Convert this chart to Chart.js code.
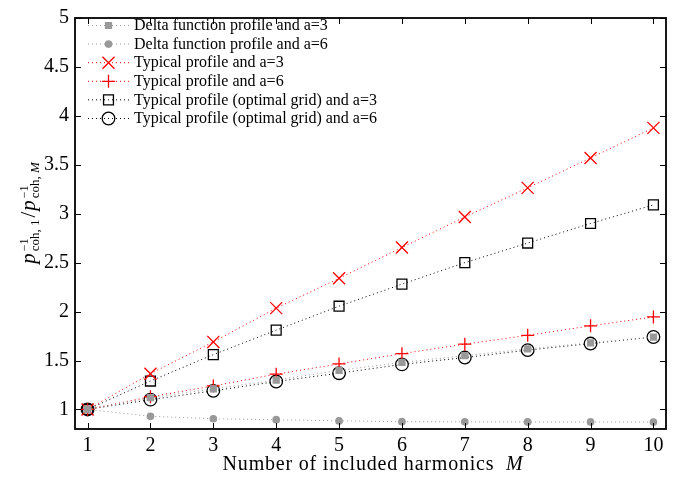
<!DOCTYPE html>
<html>
<head>
<meta charset="utf-8">
<script src="https://cdn.jsdelivr.net/npm/chart.js@4.4.1/dist/chart.umd.min.js"></script>
<style>
  body { margin: 0; background: #fff; }
  #wrap { width: 694px; height: 478px; }
</style>
</head>
<body>
<div id="wrap"><canvas id="coherenceChart" width="694" height="478"></canvas></div>
<script>
// number of included harmonics M
var harmonics = [1, 2, 3, 4, 5, 6, 7, 8, 9, 10];
var yTickValues = [1, 1.5, 2, 2.5, 3, 3.5, 4, 4.5, 5];

// ratio p_coh,1^-1 / p_coh,M^-1 for each profile
var deltaA3   = [1, 1.12, 1.21, 1.30, 1.40, 1.48, 1.55, 1.62, 1.68, 1.74];
var deltaA6   = [1, 0.93, 0.905, 0.895, 0.883, 0.875, 0.873, 0.872, 0.872, 0.871];
var typicalA3 = [1, 1.365, 1.69, 2.035, 2.34, 2.655, 2.967, 3.264, 3.57, 3.877];
var typicalA6 = [1, 1.13, 1.24, 1.36, 1.465, 1.57, 1.667, 1.757, 1.854, 1.945];
var optimalA3 = [1, 1.29, 1.56, 1.81, 2.055, 2.28, 2.50, 2.70, 2.90, 3.09];
var optimalA6 = [1, 1.10, 1.19, 1.285, 1.37, 1.46, 1.53, 1.606, 1.673, 1.74];

var seriesLabels = [
    'Delta function profile and a=3',
    'Delta function profile and a=6',
    'Typical profile and a=3',
    'Typical profile and a=6',
    'Typical profile (optimal grid) and a=3',
    'Typical profile (optimal grid) and a=6'
];

var SERIF = '"Liberation Serif", "Times New Roman", serif';
var GRAY = '#999999';
var RED = '#ff0000';
var BLACK = '#000000';

function toPoints(values) {
    return harmonics.map(function (m, i) { return { x: m, y: values[i] }; });
}

function series(label, values, color, style, radius, fill) {
    return {
        label: label,
        data: toPoints(values),
        showLine: true,
        borderColor: color,
        borderWidth: 1,
        borderDash: [1, 3],
        pointStyle: style,
        pointRadius: radius,
        pointHoverRadius: radius,
        pointBorderColor: color,
        pointBackgroundColor: fill,
        pointBorderWidth: 1.3,
        tension: 0
    };
}

var datasets = [
    series(seriesLabels[0], deltaA3, GRAY, 'rect', 4.2, GRAY),
    series(seriesLabels[1], deltaA6, GRAY, 'circle', 3.2, GRAY),
    series(seriesLabels[2], typicalA3, RED, 'crossRot', 8.5, 'transparent'),
    series(seriesLabels[3], typicalA6, RED, 'cross', 6.5, 'transparent'),
    series(seriesLabels[4], optimalA3, BLACK, 'rect', 7, 'transparent'),
    series(seriesLabels[5], optimalA6, BLACK, 'circle', 6.3, 'transparent')
];

// marker used in the hand-drawn legend
function drawMarker(ctx, ds, x, y) {
    var r = ds.pointRadius;
    ctx.save();
    ctx.setLineDash([]);
    ctx.lineWidth = ds.pointBorderWidth;
    ctx.strokeStyle = ds.pointBorderColor;
    ctx.fillStyle = ds.pointBackgroundColor;
    ctx.beginPath();
    if (ds.pointStyle === 'rect') {
        var s = Math.SQRT1_2 * r;
        ctx.rect(x - s, y - s, 2 * s, 2 * s);
        if (ds.pointBackgroundColor !== 'transparent') ctx.fill();
        ctx.stroke();
    } else if (ds.pointStyle === 'circle') {
        ctx.arc(x, y, r, 0, Math.PI * 2);
        if (ds.pointBackgroundColor !== 'transparent') ctx.fill();
        ctx.stroke();
    } else if (ds.pointStyle === 'crossRot') {
        var d = Math.SQRT1_2 * r;
        ctx.moveTo(x - d, y - d); ctx.lineTo(x + d, y + d);
        ctx.moveTo(x - d, y + d); ctx.lineTo(x + d, y - d);
        ctx.stroke();
    } else {
        ctx.moveTo(x - r, y); ctx.lineTo(x + r, y);
        ctx.moveTo(x, y - r); ctx.lineTo(x, y + r);
        ctx.stroke();
    }
    ctx.restore();
}

var frame = {
    id: 'frame',
    afterDatasetsDraw: function (chart) {
        var ctx = chart.ctx, a = chart.chartArea;
        var xs = chart.scales.x, ys = chart.scales.y;
        ctx.save();
        ctx.strokeStyle = '#000';
        ctx.lineWidth = 1;
        // inward ticks on all four sides
        ctx.beginPath();
        harmonics.forEach(function (m) {
            var px = Math.round(xs.getPixelForValue(m)) + 0.5;
            ctx.moveTo(px, a.bottom); ctx.lineTo(px, a.bottom - 6);
            ctx.moveTo(px, a.top); ctx.lineTo(px, a.top + 6);
        });
        yTickValues.forEach(function (v) {
            var py = Math.round(ys.getPixelForValue(v)) + 0.5;
            ctx.moveTo(a.left, py); ctx.lineTo(a.left + 6, py);
            ctx.moveTo(a.right, py); ctx.lineTo(a.right - 6, py);
        });
        ctx.stroke();
        ctx.lineWidth = 1.8;
        ctx.strokeRect(a.left, a.top, a.right - a.left, a.bottom - a.top);
        ctx.restore();
    },
    afterDraw: function (chart) {
        var ctx = chart.ctx;
        ctx.save();

        // legend
        var rowY = [25, 43.6, 62.2, 80.8, 99.4, 118];
        datasets.forEach(function (ds, i) {
            var y = rowY[i];
            ctx.save();
            ctx.strokeStyle = ds.borderColor;
            ctx.lineWidth = 1;
            ctx.setLineDash([1, 3]);
            ctx.beginPath();
            ctx.moveTo(88, y + 0.5); ctx.lineTo(129, y + 0.5);
            ctx.stroke();
            ctx.restore();
            drawMarker(ctx, ds, 108.5, y + 0.5);
            ctx.fillStyle = '#000';
            ctx.font = '16px ' + SERIF;
            ctx.textBaseline = 'middle';
            ctx.textAlign = 'left';
            ctx.fillText(ds.label, 134, y + 1);
        });

        // x axis title
        ctx.textBaseline = 'alphabetic';
        ctx.letterSpacing = '0.8px';
        ctx.font = '20px ' + SERIF;
        var t1 = 'Number of included harmonics  ';
        var w1 = ctx.measureText(t1).width;
        ctx.font = 'italic 20px ' + SERIF;
        var w2 = ctx.measureText('M').width;
        var x0 = 373 - (w1 + w2) / 2;
        ctx.font = '20px ' + SERIF;
        ctx.fillText(t1, x0, 470);
        ctx.font = 'italic 20px ' + SERIF;
        ctx.fillText('M', x0 + w1, 470);
        ctx.letterSpacing = '0px';

        // y axis title: p_{coh,1}^{-1} / p_{coh,M}^{-1}
        var big = 21, small = 13, tiny = 12;
        var parts = [
            { t: 'p', f: 'italic ' + big + 'px ' + SERIF },
            { sub: [{ t: 'coh, 1', f: small + 'px ' + SERIF }], sup: '\u22121' },
            { t: '/', f: big + 'px ' + SERIF },
            { t: 'p', f: 'italic ' + big + 'px ' + SERIF },
            { sub: [{ t: 'coh, ', f: small + 'px ' + SERIF }, { t: 'M', f: 'italic ' + small + 'px ' + SERIF }], sup: '\u22121' }
        ];
        function partWidth(p) {
            if (p.t) { ctx.font = p.f; return ctx.measureText(p.t).width + 1; }
            var ws = 0;
            p.sub.forEach(function (s) { ctx.font = s.f; ws += ctx.measureText(s.t).width; });
            ctx.font = tiny + 'px ' + SERIF;
            var wp = ctx.measureText(p.sup).width;
            return Math.max(ws, wp) + 3;
        }
        var total = 0;
        parts.forEach(function (p) { total += partWidth(p); });
        ctx.translate(35, 212);
        ctx.rotate(-Math.PI / 2);
        var cx = -total / 2;
        parts.forEach(function (p) {
            var w = partWidth(p);
            if (p.t) {
                ctx.font = p.f;
                ctx.fillText(p.t, cx, 0);
            } else {
                var sx = cx + 1;
                p.sub.forEach(function (s) {
                    ctx.font = s.f;
                    ctx.fillText(s.t, sx, 4);
                    sx += ctx.measureText(s.t).width;
                });
                ctx.font = tiny + 'px ' + SERIF;
                ctx.fillText(p.sup, cx + 1, -7.5);
            }
            cx += w;
        });
        ctx.restore();
    }
};

new Chart(document.getElementById('coherenceChart'), {
    type: 'scatter',
    data: { datasets: datasets },
    options: {
        responsive: false,
        animation: false,
        events: [],
        layout: { padding: { left: 0, top: 11, right: 28, bottom: 0 } },
        plugins: {
            legend: { display: false },
            tooltip: { enabled: false }
        },
        scales: {
            x: {
                type: 'linear',
                min: 0.8,
                max: 10.2,
                grid: { display: false, drawTicks: false },
                border: { display: false },
                afterBuildTicks: function (scale) {
                    scale.ticks = harmonics.map(function (v) { return { value: v }; });
                },
                afterFit: function (scale) { scale.height = 49; },
                ticks: {
                    color: '#000',
                    padding: 5,
                    maxRotation: 0,
                    autoSkip: false,
                    font: { family: SERIF, size: 20 },
                    callback: function (v) { return String(v); }
                }
            },
            y: {
                type: 'linear',
                min: 0.8,
                max: 5,
                grid: { display: false, drawTicks: false },
                border: { display: false },
                afterBuildTicks: function (scale) {
                    scale.ticks = yTickValues.map(function (v) { return { value: v }; });
                },
                afterFit: function (scale) { scale.width = 75; },
                ticks: {
                    color: '#000',
                    padding: 6,
                    autoSkip: false,
                    font: { family: SERIF, size: 20 },
                    callback: function (v) { return String(v); }
                }
            }
        }
    },
    plugins: [frame]
});
</script>
</body>
</html>
